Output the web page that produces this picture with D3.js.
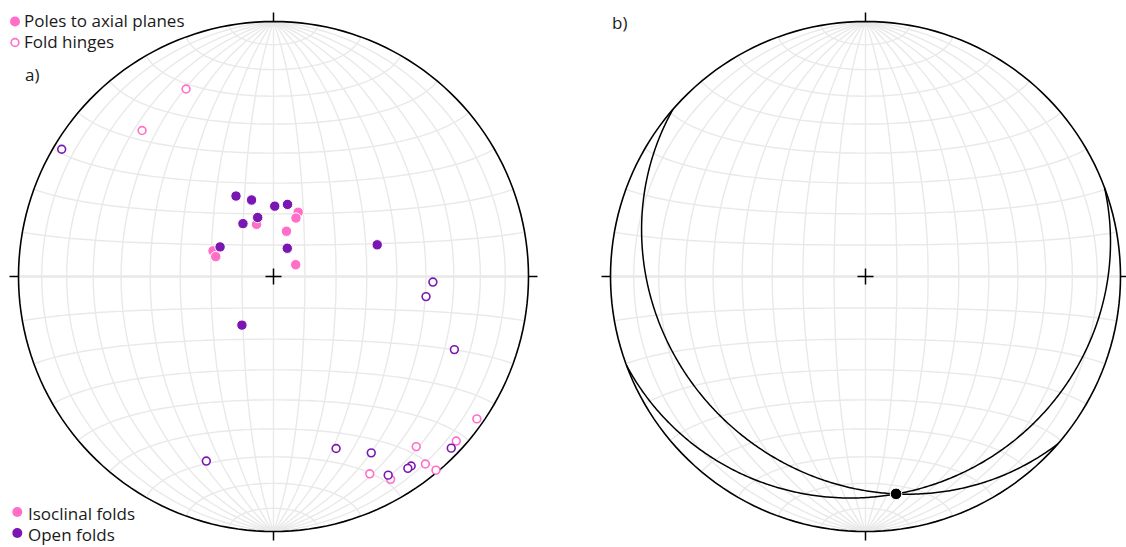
<!DOCTYPE html>
<html>
<head>
<meta charset="utf-8">
<script src="https://cdn.jsdelivr.net/npm/d3@7"></script>
<style>
  body { margin: 0; background: #fff; }
  text { font-family: "Open Sans", sans-serif; fill: #1a1a1a; }
</style>
</head>
<body>
<svg id="chart" width="1126" height="547"></svg>
<script>
// [trend, plunge] in degrees
const hingesIsoclinal = [[335, 20], [318, 24], [125, 3], [132, 4], [140, 14], [141, 6], [140, 1], [154, 15], [150, 9]];
const polesIsoclinal = [[21, 68], [21, 70], [342, 72.5], [16, 75], [293, 69], [289, 70.5], [62, 82]];
const hingesOpen = [[301, 3.5], [92, 37.5], [97.5, 39.5], [112, 24.5], [160, 29], [151, 22], [150, 11], [144, 9], [145, 9], [134, 3.5], [200, 24]];
const polesOpen = [[335, 61.5], [344, 64.5], [1, 67.5], [11, 66.5], [345, 70.5], [330, 70.5], [299, 70.5], [26, 80], [73, 55], [213, 71.5]];

// b) two planes [strike (right-hand rule), dip] and their intersection [trend, plunge]
const planes = [[131, 22.2], [69.6, 15.3]];
const beta = [[172, 15]];

const pink = '#ff6ec7';
const purple = '#7a16b2';
const R = 255;
const rad = Math.PI / 180;

const svg = d3.select('#chart');

// lower-hemisphere line -> lon/lat on a sphere seen from the nadir
function toLonLat(d) {
  const t = d[0] * rad, p = d[1] * rad;
  const e = Math.cos(p) * Math.sin(t), n = Math.cos(p) * Math.cos(t), down = Math.sin(p);
  return [Math.atan2(e, down) / rad, Math.asin(n) / rad];
}

function drawNet(cx, cy) {
  const proj = d3.geoAzimuthalEqualArea()
    .rotate([0, 0])
    .clipAngle(90)
    .scale(R / Math.SQRT2)
    .translate([cx, cy])
    .precision(0.1);
  const path = d3.geoPath(proj);
  const g = svg.append('g');

  const grat = d3.geoGraticule()
    .extentMinor([[-180, -90 + 1e-6], [180, 90 - 1e-6]])
    .extentMajor([[-180, -90 + 1e-6], [180, 90 - 1e-6]])
    .stepMinor([10, 10]);

  g.append('path')
    .attr('d', path(grat()))
    .attr('fill', 'none')
    .attr('stroke', '#e9e9e9')
    .attr('stroke-width', 1.4);

  g.append('path')
    .attr('d', path({type: 'LineString', coordinates: [[-180, 0], [-90, 0], [0, 0], [90, 0], [180, 0]]}))
    .attr('fill', 'none')
    .attr('stroke', '#e9e9e9')
    .attr('stroke-width', 2.6);

  // primitive circle
  g.append('path')
    .attr('d', path({type: 'Sphere'}))
    .attr('fill', 'none')
    .attr('stroke', '#000')
    .attr('stroke-width', 1.6);

  // N E S W ticks and the centre cross
  const ticks = [[[0, 90], [0, -1]], [[90, 0], [1, 0]], [[0, -90], [0, 1]], [[-90, 0], [-1, 0]]];
  ticks.forEach(([ll, dir]) => {
    const p = proj(ll);
    g.append('line')
      .attr('x1', p[0]).attr('y1', p[1])
      .attr('x2', p[0] + dir[0] * 9).attr('y2', p[1] + dir[1] * 9)
      .attr('stroke', '#000').attr('stroke-width', 1.5);
  });
  const c = proj([0, 0]);
  g.append('path')
    .attr('d', `M${c[0] - 8},${c[1]}H${c[0] + 8}M${c[0]},${c[1] - 8}V${c[1] + 8}`)
    .attr('stroke', '#000').attr('stroke-width', 1.5);

  return {g, proj, path};
}

function openDots(net, data, color) {
  net.g.append('g').selectAll('circle')
    .data(data).enter().append('circle')
    .attr('cx', d => net.proj(toLonLat(d))[0])
    .attr('cy', d => net.proj(toLonLat(d))[1])
    .attr('r', 3.9)
    .attr('fill', '#fff')
    .attr('stroke', color)
    .attr('stroke-width', 1.6);
}

function solidDots(net, data, color, r) {
  net.g.append('g').selectAll('circle')
    .data(data).enter().append('circle')
    .attr('cx', d => net.proj(toLonLat(d))[0])
    .attr('cy', d => net.proj(toLonLat(d))[1])
    .attr('r', r)
    .attr('fill', color)
    .attr('stroke', '#fff')
    .attr('stroke-width', 1);
}

// a)
const netA = drawNet(273.5, 276.5);
openDots(netA, hingesIsoclinal, pink);
openDots(netA, hingesOpen, purple);
solidDots(netA, polesIsoclinal, pink, 5.2);
solidDots(netA, polesOpen, purple, 5.2);

// b)
const netB = drawNet(865.5, 276.5);
planes.forEach(([strike, dip]) => {
  const pole = [(strike + 270) % 360, 90 - dip];
  const ring = d3.geoCircle().center(toLonLat(pole)).radius(90).precision(0.5)().coordinates[0];
  netB.g.append('path')
    .attr('d', netB.path({type: 'LineString', coordinates: ring}))
    .attr('fill', 'none')
    .attr('stroke', '#000')
    .attr('stroke-width', 1.5);
});
solidDots(netB, beta, '#000', 5.8);

// labels and legends
svg.append('text').attr('x', 25).attr('y', 81).attr('font-size', 17).text('a)');
svg.append('text').attr('x', 612).attr('y', 29).attr('font-size', 17).text('b)');

const legendTop = [
  {label: 'Poles to axial planes', y: 21.5, open: false},
  {label: 'Fold hinges', y: 42.5, open: true}
];
const lt = svg.append('g');
legendTop.forEach(d => {
  lt.append('circle')
    .attr('cx', 15).attr('cy', d.y).attr('r', d.open ? 3.9 : 5)
    .attr('fill', d.open ? '#fff' : pink)
    .attr('stroke', d.open ? pink : 'none')
    .attr('stroke-width', 1.6);
  lt.append('text').attr('x', 24).attr('y', d.y + 5.8).attr('font-size', 17).text(d.label);
});

const legendBottom = [
  {label: 'Isoclinal folds', y: 512, color: pink},
  {label: 'Open folds', y: 533, color: purple}
];
const lb = svg.append('g');
legendBottom.forEach(d => {
  lb.append('circle').attr('cx', 17.3).attr('cy', d.y).attr('r', 5).attr('fill', d.color);
  lb.append('text').attr('x', 28).attr('y', d.y + 8).attr('font-size', 17).text(d.label);
});
</script>
</body>
</html>
